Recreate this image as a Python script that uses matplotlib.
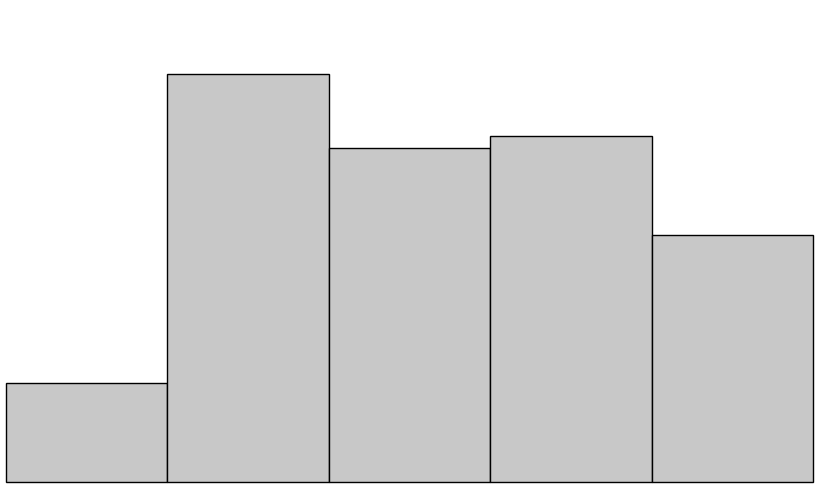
import matplotlib
matplotlib.use("Agg")
import matplotlib.pyplot as plt

categories = ["A", "B", "C", "D", "E"]
values = [8, 33, 27, 28, 20]

fig = plt.figure(figsize=(8.23, 4.88), dpi=100)
ax = fig.add_axes([6/823, 6/488, 807/823, 482/488])
x = list(range(len(values)))
bars = ax.bar(x, values, width=1.0, align="edge", color="#c8c8c8", edgecolor="black", linewidth=1.0)
for b in bars:
    b.set_clip_on(False)
ax.set_xlim(0, len(values))
ax.set_ylim(0, 39)
ax.axis("off")
fig.savefig("out.png", dpi=100)
